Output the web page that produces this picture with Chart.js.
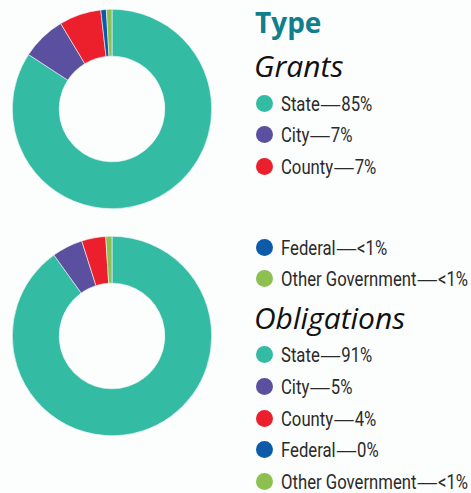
<!DOCTYPE html>
<html>
<head>
<meta charset="utf-8">
<script src="https://cdn.jsdelivr.net/npm/chart.js@4/dist/chart.umd.min.js"></script>
<style>
  html, body { margin: 0; padding: 0; }
  body { width: 471px; height: 493px; background: #fcfdfd; position: relative; overflow: hidden; }
  canvas { position: absolute; }
  .head { position: absolute; white-space: nowrap; font-family: "Open Sans", sans-serif; }
  .type { left: 255px; top: 8px; font-size: 28px; line-height: 28px; font-weight: 700; color: #0f7f8b; }
  .sub { left: 254px; font-size: 30px; line-height: 30px; font-style: italic; color: #111; }
  .row { position: absolute; left: 256px; height: 32px; line-height: 32px; white-space: nowrap;
         font-family: Roboto, sans-serif; font-size: 21px; color: #2a2a2a; }
  .dot { position: absolute; left: 0; top: 7px; width: 17px; height: 17px; border-radius: 50%; }
  .txt { position: absolute; left: 25px; top: 0; transform: scaleX(0.795); transform-origin: 0 50%; }
  .dash { font-family: "DejaVu Sans ExtraLight", "DejaVu Sans", sans-serif; font-weight: 200; font-size: 27px; line-height: 0; position: relative; top: 2px; }
</style>
</head>
<body>
<canvas id="grants" width="200" height="200" style="left:12px;top:9px"></canvas>
<canvas id="obligations" width="200" height="200" style="left:12px;top:236px"></canvas>
<div class="head type">Type</div>
<div class="head sub" style="top:51px">Grants</div>
<div class="head sub" style="top:303px">Obligations</div>
<div id="legend"></div>
<script>
const categories = ['State', 'City', 'County', 'Federal', 'Other Government'];
const colors = ['#33bba4', '#5b4f9f', '#ec1f2d', '#0d5ba8', '#8cc152'];

const grantsValues = [84.2, 7.2, 6.8, 0.9, 0.9];
const grantsLabels = ['85%', '7%', '7%', '<1%', '<1%'];

const obligationsValues = [90.1, 5.0, 3.9, 0, 1.0];
const obligationsLabels = ['91%', '5%', '4%', '0%', '<1%'];

// legend row tops (px)
const grantsRowTops = [88, 119, 151, 232, 263];
const obligationsRowTops = [339, 371, 403, 434, 466];

function makeDonut(id, values) {
  new Chart(document.getElementById(id), {
    type: 'doughnut',
    data: {
      labels: categories,
      datasets: [{ data: values, backgroundColor: colors, borderWidth: 0.6, borderColor: '#f4f8f7' }],
    },
    options: {
      responsive: false,
      animation: false,
      cutout: '53%',
      layout: { padding: 0 },
      plugins: { legend: { display: false }, tooltip: { enabled: false } },
    },
  });
}

function addRows(labels, tops) {
  const legend = document.getElementById('legend');
  categories.forEach((cat, i) => {
    const row = document.createElement('div');
    row.className = 'row';
    row.style.top = tops[i] + 'px';
    const dot = document.createElement('span');
    dot.className = 'dot';
    dot.style.background = colors[i];
    const txt = document.createElement('span');
    txt.className = 'txt';
    const dash = document.createElement('span');
    dash.className = 'dash';
    dash.textContent = '\u2014';
    txt.append(cat, dash, labels[i]);
    row.appendChild(dot);
    row.appendChild(txt);
    legend.appendChild(row);
  });
}

makeDonut('grants', grantsValues);
makeDonut('obligations', obligationsValues);
addRows(grantsLabels, grantsRowTops);
addRows(obligationsLabels, obligationsRowTops);
</script>
</body>
</html>
